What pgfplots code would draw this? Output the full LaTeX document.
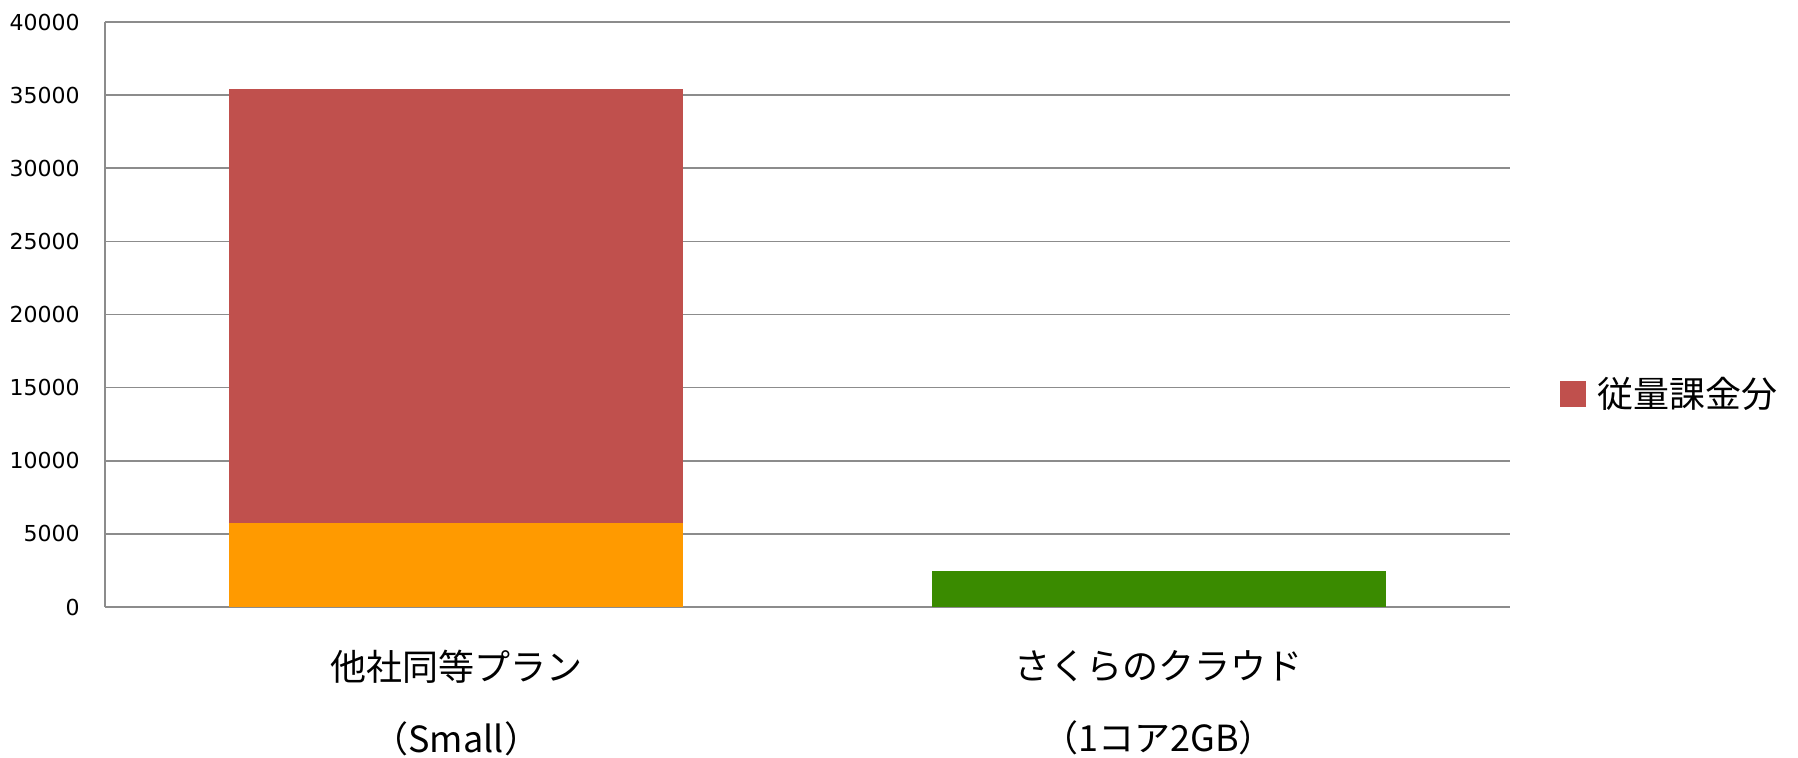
\documentclass[border=0pt]{standalone}
\usepackage{pgfplots}
\pgfplotsset{compat=1.18}
\usepackage{fontspec}
\setmainfont{DejaVu Sans}
\newfontfamily\cjk{Noto Sans CJK JP}
\definecolor{cred}{HTML}{C0504D}
\definecolor{corange}{HTML}{FF9A00}
\definecolor{cgreen}{HTML}{3A8B00}
\definecolor{cgrid}{HTML}{8C8C8C}
\begin{document}
\begin{tikzpicture}
\useasboundingbox (-52.5pt,-75pt) rectangle (846.5pt,303.5pt);
\begin{axis}[
  scale only axis,
  width=702.5pt, height=292.5pt,
  ybar stacked,
  bar width=227pt,
  xmin=-0.5, xmax=1.5,
  ymin=0, ymax=40000,
  xtick={0,1},
  xticklabels={{他社同等プラン\\[14.4pt]（Small）},{さくらのクラウド\\[14.4pt]（1コア2GB）}},
  ytick={0,5000,...,40000},
  scaled y ticks=false,
  /pgf/number format/1000 sep={},
  /pgf/number format/assume math mode=true,
  axis x line*=bottom, axis y line*=left,
  axis line style={cgrid, line width=0.8pt, -},
  ymajorgrids,
  grid style={cgrid, line width=0.8pt},
  major tick length=0pt,
  yticklabel style={font=\fontsize{11}{13}\selectfont, anchor=east, inner sep=0pt, xshift=-12.5pt},
  xticklabel style={font=\cjk\fontsize{18}{21.6}\selectfont, align=center, anchor=north, inner sep=0pt, yshift=-21.5pt},
  legend style={draw=none, fill=none, at={(1.035,0.364)}, anchor=west,
    font=\cjk\fontsize{18}{21.6}\selectfont, inner sep=0pt,
    nodes={inner sep=0pt},
    /tikz/every odd column/.append style={column sep=6pt}},
  legend cell align=left,
  legend image code/.code={\fill[#1] (0pt,-6.5pt) rectangle (13pt,6.5pt);},
]
\addplot[fill=corange, draw=none, forget plot] coordinates {(0,5750) (1,0)};
\addplot[fill=cgreen, draw=none, forget plot] coordinates {(0,0) (1,2480)};
\addplot[fill=cred, draw=none] coordinates {(0,29680) (1,0)};
\addlegendentry{従量課金分}
\end{axis}
\end{tikzpicture}
\end{document}
